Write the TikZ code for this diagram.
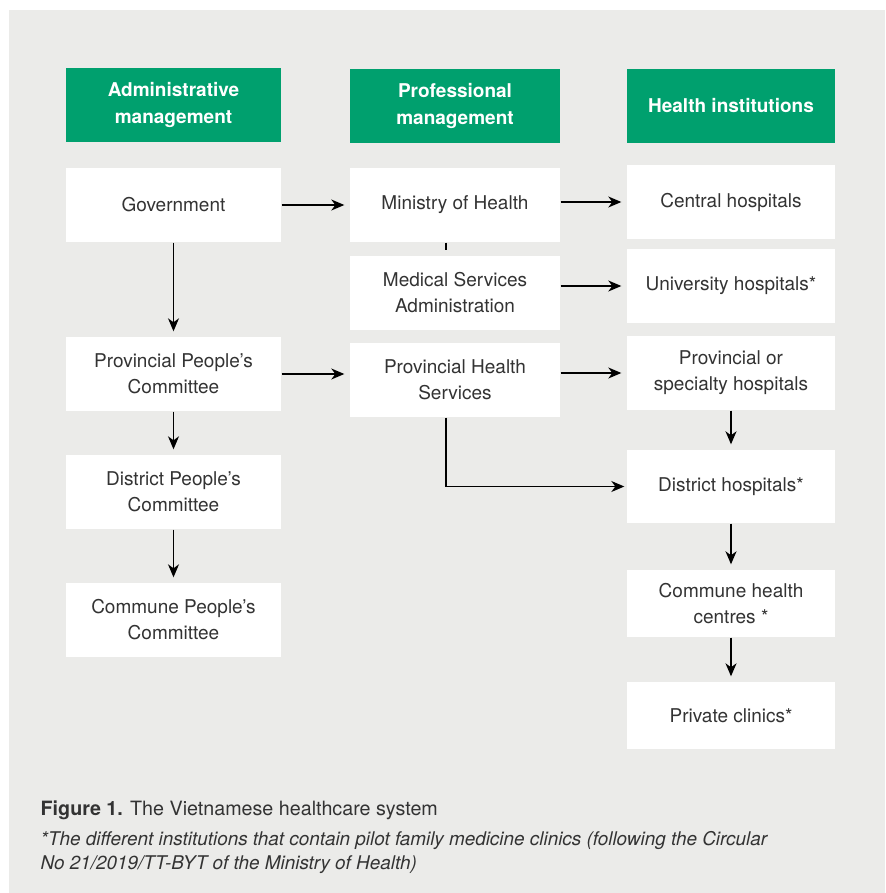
\documentclass[tikz,border=0pt]{standalone}
\usepackage{fontspec}
\setmainfont{TeX Gyre Heros}
\usetikzlibrary{arrows.meta}
\definecolor{bggray}{HTML}{EBEBE9}
\definecolor{headgreen}{HTML}{00A06E}
\definecolor{txtgray}{HTML}{333333}

\begin{document}
\begin{tikzpicture}[x=1pt,y=-1pt,->,>={Stealth[length=13pt,width=11pt,inset=4pt]},shorten >=5pt,line width=1.4pt,
    head node/.style={fill=headgreen,text=white,font=\fontsize{19}{27}\selectfont\bfseries,align=center,inner sep=0pt,minimum width=#1,minimum height=74pt},
    box node/.style={fill=white,text=txtgray,font=\fontsize{19}{26}\selectfont,align=center,inner sep=0pt,minimum width=#1,minimum height=74pt},
    cap node/.style={anchor=base west,text=txtgray,inner sep=0pt}]
  \useasboundingbox (0,0) rectangle (885,893);
  \fill[white,-] (0,0) rectangle (885,893);
  \fill[bggray,-] (9,10) rectangle (885,893);
  % headers
  \node[head node=215pt] (ha) at (173.5,105) {Administrative\\management};
  \node[head node=210pt] (hp) at (455,106) {Professional\\management};
  \node[head node=208pt] (hh) at (731,106) {Health institutions};
  % administrative column
  \node[box node=215pt] (gov) at (173.5,205) {Government};
  \node[box node=215pt] (ppc) at (173.5,374) {Provincial People’s\\Committee};
  \node[box node=215pt] (dpc) at (173.5,492) {District People’s\\Committee};
  \node[box node=215pt] (cpc) at (173.5,620) {Commune People’s\\Committee};
  % professional column
  \node[box node=210pt] (moh) at (455,205) {Ministry of Health};
  \node[box node=210pt] (msa) at (455,293) {Medical Services\\Administration};
  \node[box node=210pt] (phs) at (455,380) {Provincial Health\\Services};
  % health institutions
  \node[box node=208pt] (ch) at (731,202) {Central hospitals};
  \node[box node=208pt] (uh) at (731,286) {University hospitals*};
  \node[box node=208pt] (ph) at (731,373) {Provincial or\\specialty hospitals};
  \node[box node=208pt,minimum height=73pt] (dh) at (731,486.5) {District hospitals*};
  \node[box node=208pt,minimum height=67pt] (chc) at (731,603.5) {Commune health\\centres *};
  \node[box node=208pt,minimum height=67pt] (pc) at (731,715.5) {Private clinics*};
  % connectors
  \path (gov) edge (ppc);
  \path (ppc) edge (dpc);
  \path (dpc) edge (cpc);
  \path (gov) edge (moh);
  \path (ppc.east) edge (ppc.east -| phs.west);
  \path[-] ([xshift=-9pt]moh.south) edge ([xshift=-9pt]msa.north);
  \path (moh.east |- ch) edge (ch);
  \path (msa.east |- uh) edge (uh);
  \path (phs.east |- ph) edge (ph);
  \draw[shorten >=2pt] ([xshift=-9pt]phs.south) |- (dh.west);
  \path (ph) edge (dh);
  \path (dh) edge (chc);
  \path (chc) edge (pc);
  % caption
  \node[cap node,font=\fontsize{19.7}{24}\selectfont] (cap) at (40,815) {\textbf{Figure 1.} The Vietnamese healthcare system};
  \node[cap node,font=\fontsize{18.9}{24}\selectfont\itshape] (note1) at (40,845) {*The different institutions that contain pilot family medicine clinics (following the Circular};
  \node[cap node,font=\fontsize{18.9}{24}\selectfont\itshape] (note2) at (40,869) {No 21/2019/TT-BYT of the Ministry of Health)};
\end{tikzpicture}
\end{document}
